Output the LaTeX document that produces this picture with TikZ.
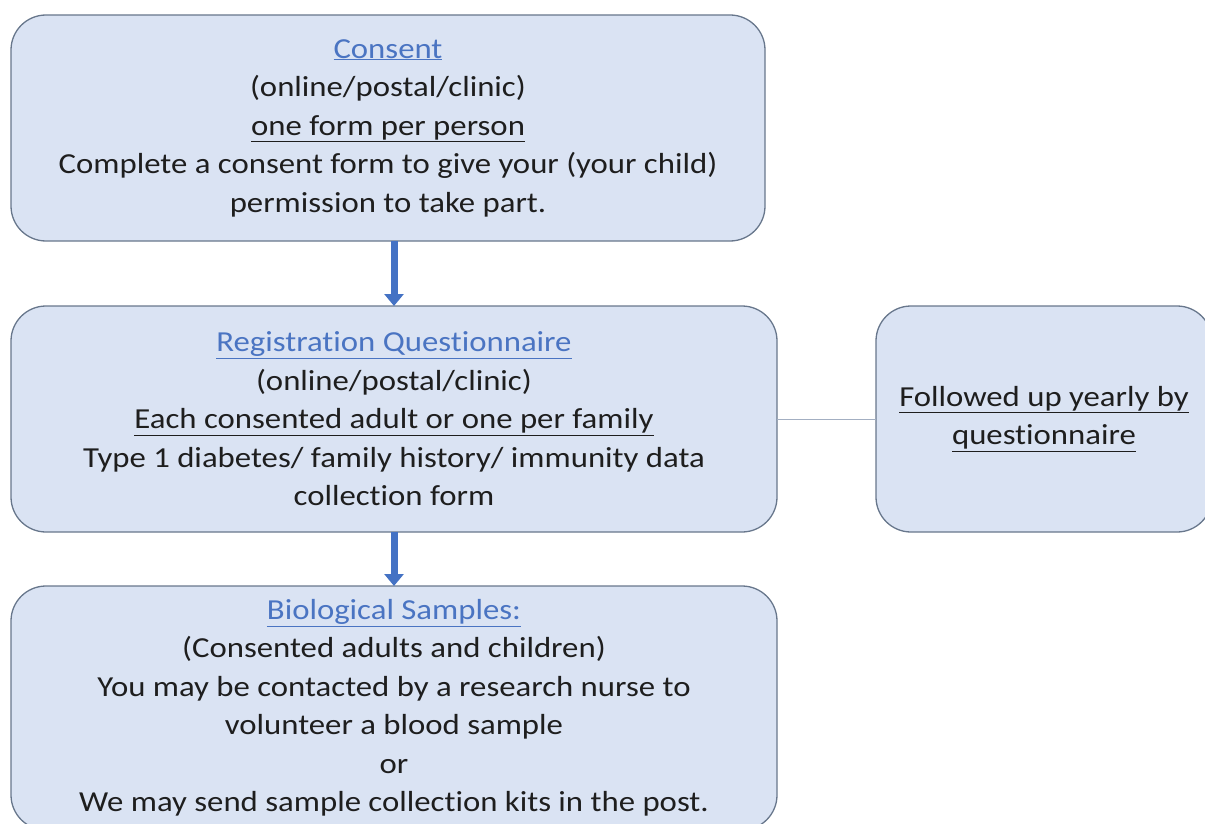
\documentclass[tikz,border=0pt]{standalone}
\usepackage{fontspec}
\setmainfont{Carlito}[Ligatures=NoCommon, FakeStretch=1.13]
\usepackage{xcolor}
\usetikzlibrary{arrows.meta}

\definecolor{boxfill}{HTML}{DAE3F3}
\definecolor{boxline}{HTML}{68778C}
\definecolor{titleblue}{HTML}{4A74C2}
\definecolor{arrowblue}{HTML}{4472C4}
\definecolor{textgray}{HTML}{1E1E1E}
\definecolor{linkgray}{HTML}{A3AFC2}

\tikzset{
    stagebox/.style={draw=boxline, line width=1.3pt, fill=boxfill, rounded corners=35pt,
        inner sep=0pt, outer sep=0pt, align=center, text=textgray,
        font=\fontsize{29}{38.5}\selectfont},
    flowarrow/.style={draw=arrowblue, line width=7pt,
        -{Triangle[width=19pt,length=12pt]}},
    linkline/.style={draw=linkgray, line width=1pt}
}
\newcommand{\boxtitle}[1]{\textcolor{titleblue}{\underline{#1}}}

\begin{document}
\begin{tikzpicture}[x=1pt,y=-1pt]
        \useasboundingbox (0,0) rectangle (1205,824);

        \node[stagebox, minimum width=754pt, minimum height=226pt] (consent) at (388,128)
            {\boxtitle{Consent}\\
             (online/postal/clinic)\\
             \underline{one form per person}\\
             Complete a consent form to give your (your child)\\
             permission to take part.};

        \node[stagebox, minimum width=766pt, minimum height=226pt] (regq) at (394,419)
            {\boxtitle{Registration Questionnaire}\\
             (online/postal/clinic)\\
             \underline{Each consented adult or one per family}\\
             Type 1 diabetes/ family history/ immunity data\\
             collection form};

        \node[stagebox, minimum width=336pt, minimum height=226pt] (followup) at (1044,419)
            {\underline{Followed up yearly by}\\
             \underline{questionnaire}};

        \node[stagebox, minimum width=766pt, minimum height=244pt] (biosamples) at (394,708)
            {\boxtitle{Biological Samples:}\\
             (Consented adults and children)\\
             You may be contacted by a research nurse to\\
             volunteer a blood sample\\
             or\\
             We may send sample collection kits in the post.};

        \draw[flowarrow] (consent.south -| regq.north) -- (regq.north);
        \draw[flowarrow] (regq.south) -- (biosamples.north);
        \draw[linkline] (regq.east) -- (followup.west);
    \end{tikzpicture}
\end{document}
